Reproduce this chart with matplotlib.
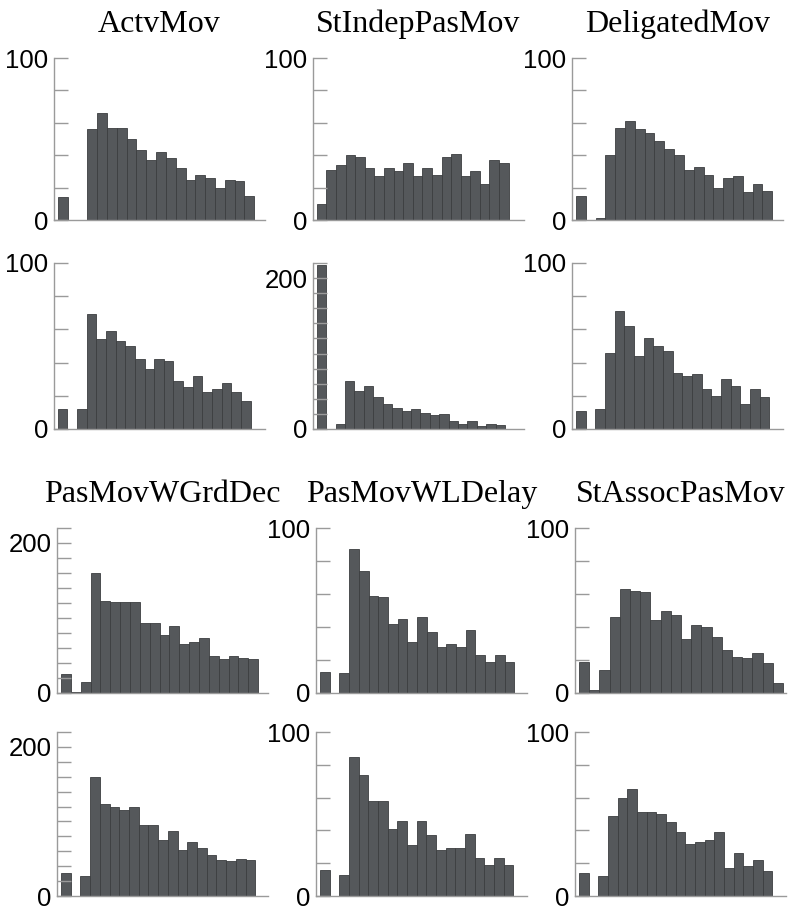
import matplotlib
matplotlib.use('Agg')
import matplotlib.pyplot as plt
import numpy as np

# 20 bins per panel, counts
titles = ['ActvMov', 'StIndepPasMov', 'DeligatedMov',
          'PasMovWGrdDec', 'PasMovWLDelay', 'StAssocPasMov']

actv_top = [14, 0, 0, 56, 66, 57, 57, 50, 43, 37, 42, 38, 32, 25, 28, 26, 20, 25, 24, 15]
actv_bot = [12, 0, 12, 69, 54, 59, 53, 50, 42, 36, 42, 41, 29, 25, 32, 22, 24, 28, 22, 17]
stindep_top = [10, 31, 34, 40, 39, 32, 27, 32, 30, 35, 27, 32, 28, 39, 41, 27, 30, 22, 37, 35]
stindep_bot = [217, 0, 6, 63, 51, 57, 43, 33, 28, 24, 26, 21, 18, 20, 11, 6, 11, 4, 7, 5]
delig_top = [15, 0, 1, 40, 57, 61, 56, 54, 49, 44, 40, 31, 33, 28, 20, 26, 27, 17, 22, 18]
delig_bot = [11, 0, 12, 46, 71, 62, 44, 55, 50, 47, 34, 32, 33, 24, 20, 30, 26, 15, 24, 19]
grddec_top = [25, 2, 15, 160, 123, 121, 121, 121, 94, 94, 78, 89, 65, 68, 73, 50, 46, 49, 47, 45]
grddec_bot = [31, 0, 27, 160, 123, 120, 116, 119, 95, 95, 75, 87, 62, 72, 65, 55, 48, 47, 49, 48]
wldelay_top = [13, 0, 12, 87, 74, 59, 58, 42, 45, 31, 46, 37, 28, 30, 28, 38, 23, 19, 23, 19]
wldelay_bot = [16, 0, 13, 85, 74, 58, 58, 41, 46, 31, 46, 37, 28, 29, 29, 38, 23, 19, 23, 19]
assoc_top = [19, 2, 14, 46, 63, 62, 61, 44, 50, 47, 33, 41, 40, 34, 26, 22, 21, 24, 18, 6]
assoc_bot = [14, 0, 12, 49, 60, 65, 51, 51, 50, 45, 39, 32, 33, 34, 39, 17, 26, 18, 22, 15]

panels = [
    [actv_top, stindep_top, delig_top],
    [actv_bot, stindep_bot, delig_bot],
    [grddec_top, wldelay_top, assoc_top],
    [grddec_bot, wldelay_bot, assoc_bot],
]
ymax = [
    [100, 100, 100],
    [100, 220, 100],
    [220, 100, 100],
    [220, 100, 100],
]
xmax = [
    [21.1, 21.6, 21.1],
    [21.5, 22.0, 21.4],
    [21.0, 21.3, 20.3],
    [21.3, 21.4, 21.4],
]

W, H = 791, 911
row_px = [(58, 220), (263, 429), (528, 693), (732, 896)]
col_px = [[54, 313, 572], [54, 313, 572], [57, 316, 575], [57, 316, 575]]
ax_w = 211

bar_color = '#55585b'
edge_color = '#3c3e40'
axis_gray = '#9a9a9a'

fig = plt.figure(figsize=(W / 100, H / 100), dpi=100)

for r in range(4):
    top, bot = row_px[r]
    for c in range(3):
        left = col_px[r][c]
        ax = fig.add_axes([left / W, (H - bot) / H, ax_w / W, (bot - top) / H])
        vals = panels[r][c]
        x = np.arange(len(vals))
        ax.bar(x, vals, width=1.0, align='edge', color=bar_color,
               edgecolor=edge_color, linewidth=0.6)
        top_y = ymax[r][c]
        ax.set_ylim(0, top_y)
        ax.set_xlim(-0.4, xmax[r][c])
        ticks = np.arange(0, top_y + 1, 20)
        lab = 200 if top_y > 100 else 100
        ax.set_yticks(ticks)
        ax.set_yticklabels([str(v) if v in (0, lab) else '' for v in ticks])
        ax.set_xticks([])
        for s in ['top', 'right']:
            ax.spines[s].set_visible(False)
        for s in ['left', 'bottom']:
            ax.spines[s].set_color(axis_gray)
            ax.spines[s].set_linewidth(1.0)
        ax.tick_params(axis='y', direction='in', length=10, width=1.0,
                       color=axis_gray, pad=4, labelsize=18.5)
        for t in ax.get_yticklabels():
            t.set_fontfamily('Liberation Sans')
        if r in (0, 2):
            ax.set_title(titles[(r // 2) * 3 + c], fontfamily='Liberation Serif',
                         fontsize=23, pad=19)

fig.savefig('out.png', dpi=100)
